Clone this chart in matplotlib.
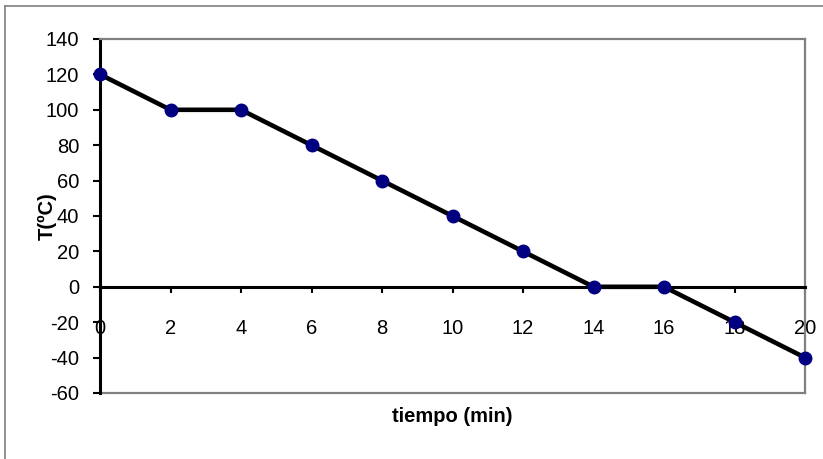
import matplotlib
matplotlib.use("Agg")
import matplotlib.pyplot as plt
from matplotlib.lines import Line2D

tiempo = [0, 2, 4, 6, 8, 10, 12, 14, 16, 18, 20]
temperatura = [120, 100, 100, 80, 60, 40, 20, 0, 0, -20, -40]
xticks = [0, 2, 4, 6, 8, 10, 12, 14, 16, 18, 20]
yticks = [-60, -40, -20, 0, 20, 40, 60, 80, 100, 120, 140]

plt.rcParams['font.family'] = ['Liberation Sans', 'DejaVu Sans']
plt.rcParams['axes.unicode_minus'] = False

W, H = 823, 459
fig = plt.figure(figsize=(W / 100, H / 100), dpi=100)

# outer chart border (only top and left visible)
fig.add_artist(Line2D([5 / W, 1], [1 - 6 / H, 1 - 6 / H], color='#808080', lw=1.2))
fig.add_artist(Line2D([5 / W, 5 / W], [0, 1 - 6 / H], color='#808080', lw=1.2))

ax = fig.add_axes([100 / W, 1 - 393 / H, (805 - 100) / W, (393 - 39) / H])

ax.plot(tiempo, temperatura, color='black', lw=3.3, marker='o',
        markersize=9, markerfacecolor='#000080', markeredgecolor='#000080',
        clip_on=False, zorder=5)

ax.set_xlim(0, 20)
ax.set_ylim(-60, 140)
ax.set_xticks(xticks)
ax.set_yticks(yticks)

# x axis crosses at y = 0
ax.spines['bottom'].set_position(('data', 0))
ax.spines['bottom'].set_color('black')
ax.spines['bottom'].set_linewidth(2.2)
ax.spines['left'].set_color('black')
ax.spines['left'].set_linewidth(2.2)
for s in ['top', 'right']:
    ax.spines[s].set_color('#808080')
    ax.spines[s].set_linewidth(1.6)
# gray frame line at the bottom of the plot area
ax.plot([0, 20], [-60, -60], color='#808080', lw=1.6, clip_on=False, zorder=1)

ax.tick_params(axis='x', direction='out', length=4, width=1.5, pad=19, labelsize=14.5)
ax.tick_params(axis='y', direction='out', length=5, width=1.5, pad=10, labelsize=14.5)

ax.set_xlabel('tiempo (min)', fontsize=14.5, fontweight='bold')
ax.xaxis.set_label_coords(0.5, -0.04)
ax.set_ylabel('T(ºC)', fontsize=14.5, fontweight='bold')
ax.yaxis.set_label_coords(-0.062, 0.5)

fig.savefig('out.png', dpi=100)
